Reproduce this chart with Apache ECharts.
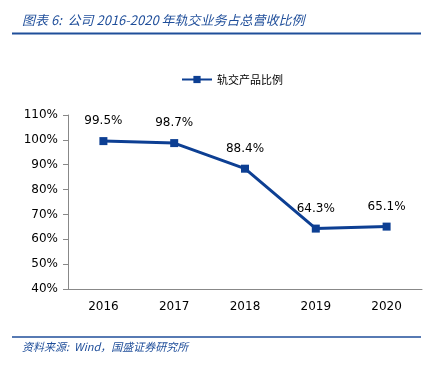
<!DOCTYPE html>
<html><head><meta charset="utf-8">
<script src="https://cdn.jsdelivr.net/npm/echarts@6/dist/echarts.min.js"></script>
<style>html,body{margin:0;padding:0;background:#fff}#c{width:435px;height:371px}</style>
</head><body><div id="c"></div>
<script>
var categories = ['2016','2017','2018','2019','2020'];
var ratioValues = [99.5, 98.7, 88.4, 64.3, 65.1];
var seriesName = '轨交产品比例';
var titleText = '图表 6:  公司 2016-2020 年轨交业务占总营收比例';
var sourceText = '资料来源:  Wind，国盛证券研究所';

var chart = echarts.init(document.getElementById('c'));
var blue = '#0d3f93';
chart.setOption({
  animation: false,
  graphic: [
    {type:'text', left: 22, top: 14, style:{text: titleText, fill:'#1f4e9a', font:'italic 13px "Noto Sans CJK SC", sans-serif'}},
    {type:'line', shape:{x1:12,y1:33.5,x2:421,y2:33.5}, style:{stroke:'#1f4e9a', lineWidth:2}},
    {type:'line', shape:{x1:12,y1:337,x2:421,y2:337}, style:{stroke:'#1f4e9a', lineWidth:1.5}},
    {type:'text', left: 22, top: 341, style:{text: sourceText, fill:'#1f4e9a', font:'italic 11px "Noto Sans CJK SC", sans-serif'}}
  ],
  legend: {
    top: 69, left: 176,
    itemWidth: 30, itemHeight: 9, itemGap: 8,
    textStyle: {fontSize: 11, color:'#000', fontFamily:'"Noto Sans CJK SC", sans-serif'},
    data: [seriesName]
  },
  grid: {left: 68, right: 13, top: 115, bottom: 82},
  xAxis: {
    type: 'category', data: categories,
    axisLine: {lineStyle:{color:'#888'}},
    axisTick: {inside: true, length: 5, lineStyle:{color:'#888'}},
    axisLabel: {color:'#000', fontSize: 12, margin: 12, fontFamily:'"DejaVu Sans", sans-serif'}
  },
  yAxis: {
    type: 'value', min: 40, max: 110, interval: 10,
    splitLine: {show:false},
    axisLine: {show:true, lineStyle:{color:'#888'}},
    axisTick: {show:true, length: 5, lineStyle:{color:'#888'}},
    axisLabel: {color:'#000', fontSize: 12, margin: 10, formatter: '{value}%', fontFamily:'"DejaVu Sans", sans-serif'}
  },
  series: [{
    name: seriesName, type: 'line', data: ratioValues,
    symbol: 'rect', symbolSize: 8,
    lineStyle: {color: blue, width: 3},
    itemStyle: {color: blue},
    label: {show: true, position: 'top', distance: 10, color:'#000', fontSize: 12,
      fontFamily:'"DejaVu Sans", sans-serif', formatter: function(p){return p.value.toFixed(1)+'%';}}
  }]
});
</script></body></html>
